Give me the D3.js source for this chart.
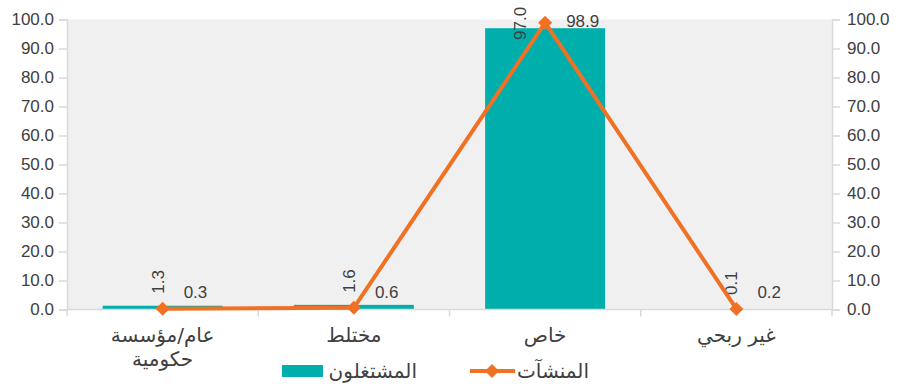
<!DOCTYPE html>
<html>
<head>
<meta charset="utf-8">
<script src="https://cdn.jsdelivr.net/npm/d3@7"></script>
<style>
  html, body { margin: 0; padding: 0; background: #fff; }
  svg text { font-family: "Liberation Sans", Arial, "DejaVu Sans", sans-serif; fill: #404040; }
</style>
</head>
<body>
<svg id="chart" width="899" height="384"></svg>
<script>
// Sectors
const categories = ["عام/مؤسسة حكومية", "مختلط", "خاص", "غير ربحي"];
// Employed persons (%) — bars, left axis
const workers = [1.3, 1.6, 97.0, 0.1];
// Establishments (%) — line, right axis
const establishments = [0.3, 0.6, 98.9, 0.2];
const yTicks = [0, 10, 20, 30, 40, 50, 60, 70, 80, 90, 100];
const seriesNames = ["المشتغلون", "المنشآت"];

const barColor = "#00aeac";
const lineColor = "#f07124";
const arabicFont = '"DejaVu Sans", sans-serif';

const svg = d3.select("#chart");
const plot = { left: 67, right: 832, top: 19.5, bottom: 309.5 };

const x = d3.scaleBand().domain(categories).range([plot.left, plot.right]);
const yL = d3.scaleLinear().domain([0, 100]).range([plot.bottom, plot.top]);
const yR = d3.scaleLinear().domain([0, 100]).range([plot.bottom, plot.top]);

// plot background
svg.append("rect")
  .attr("x", plot.left).attr("y", plot.top)
  .attr("width", plot.right - plot.left).attr("height", plot.bottom - plot.top)
  .attr("fill", "#f0f0f0");

// left axis
const gL = svg.append("g").attr("transform", `translate(${plot.left},0)`)
  .call(d3.axisLeft(yL).tickValues(yTicks).tickFormat(d3.format(".1f")).tickSize(8).tickPadding(5));
// right axis
const gR = svg.append("g").attr("transform", `translate(${plot.right},0)`)
  .call(d3.axisRight(yR).tickValues(yTicks).tickFormat(d3.format(".1f")).tickSize(8).tickPadding(7));
[gL, gR].forEach(g => {
  g.select(".domain").attr("stroke", "#d9d9d9").attr("stroke-width", 1.5);
  g.selectAll(".tick line").attr("stroke", "#d9d9d9").attr("stroke-width", 1.5);
  g.selectAll(".tick text").attr("font-size", 17).attr("fill", "#404040")
    .style("font-family", '"Liberation Sans", Arial, sans-serif');
});

// bars
const barW = 120;
svg.append("g").selectAll("rect").data(workers).join("rect")
  .attr("x", (d, i) => x(categories[i]) + x.bandwidth() / 2 - barW / 2)
  .attr("width", barW)
  .attr("y", d => yL(d))
  .attr("height", d => plot.bottom - yL(d))
  .attr("fill", barColor);

// bottom category axis
const gB = svg.append("g").attr("transform", `translate(0,${plot.bottom})`);
gB.append("line").attr("x1", plot.left).attr("x2", plot.right)
  .attr("stroke", "#d9d9d9").attr("stroke-width", 1.5);
const edges = categories.map(c => x(c)).concat([plot.right]);
gB.selectAll("line.edge").data(edges).join("line").attr("class", "edge")
  .attr("x1", d => d).attr("x2", d => d).attr("y1", 0).attr("y2", 7)
  .attr("stroke", "#d9d9d9").attr("stroke-width", 1.5);

// category labels, wrapped when wider than the limit
categories.forEach(c => {
  const cx = x(c) + x.bandwidth() / 2;
  const t = gB.append("text").attr("x", cx).attr("y", 32)
    .attr("text-anchor", "middle").attr("font-size", 20)
    .style("font-family", arabicFont)
    .text(c);
  if (t.node().getComputedTextLength() > 130) {
    const words = c.split(" ");
    t.text(words[0]);
    gB.append("text").attr("x", cx).attr("y", 56)
      .attr("text-anchor", "middle").attr("font-size", 20)
      .style("font-family", arabicFont)
      .text(words.slice(1).join(" "));
  }
});

// bar value labels, rotated
svg.append("g").selectAll("text").data(workers).join("text")
  .attr("transform", (d, i) => {
    const top = yL(d) - 12;
    const clamped = top < 40;
    const cx = x(categories[i]) + x.bandwidth() / 2 + (clamped ? -25 : -5);
    const yy = Math.min(Math.max(top, 40), 295);
    return `translate(${cx},${yy}) rotate(-90)`;
  })
  .attr("dy", "0.35em")
  .attr("font-size", 17)
  .text(d => d3.format(".1f")(d));

// line
const line = d3.line()
  .x((d, i) => x(categories[i]) + x.bandwidth() / 2)
  .y(d => yR(d));
svg.append("path").datum(establishments)
  .attr("d", line).attr("fill", "none")
  .attr("stroke", lineColor).attr("stroke-width", 4).attr("stroke-linejoin", "round");

const diamond = "M0,-7L7,0L0,7L-7,0Z";
svg.append("g").selectAll("path").data(establishments).join("path")
  .attr("transform", (d, i) => `translate(${x(categories[i]) + x.bandwidth() / 2},${yR(d)})`)
  .attr("d", diamond).attr("fill", lineColor);

// line value labels
svg.append("g").selectAll("text").data(establishments).join("text")
  .attr("x", (d, i) => x(categories[i]) + x.bandwidth() / 2 + 21)
  .attr("y", d => Math.min(yR(d) - 2, 292))
  .attr("dy", "0.35em")
  .attr("font-size", 17)
  .text(d => d3.format(".1f")(d));

// legend
const lg = svg.append("g");
lg.append("rect").attr("x", 282).attr("y", 365).attr("width", 41).attr("height", 12).attr("fill", barColor);
lg.append("text").attr("x", 417).attr("y", 371).attr("dy", "0.35em")
  .attr("text-anchor", "end").attr("font-size", 20)
  .style("font-family", arabicFont).text(seriesNames[0]);
lg.append("line").attr("x1", 470).attr("x2", 515).attr("y1", 371).attr("y2", 371)
  .attr("stroke", lineColor).attr("stroke-width", 4);
lg.append("path").attr("transform", "translate(492,371)").attr("d", diamond).attr("fill", lineColor);
lg.append("text").attr("x", 589).attr("y", 371).attr("dy", "0.35em")
  .attr("text-anchor", "end").attr("font-size", 20)
  .style("font-family", arabicFont).text(seriesNames[1]);
</script>
</body>
</html>
